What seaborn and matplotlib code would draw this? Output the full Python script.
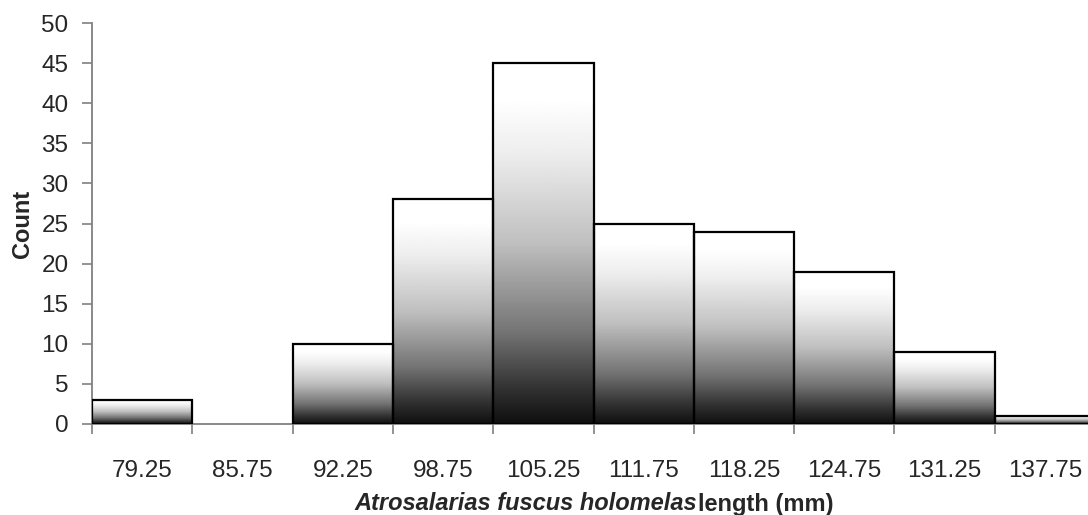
import numpy as np
import pandas as pd
import matplotlib
matplotlib.use('Agg')
import matplotlib.pyplot as plt
import seaborn as sns

# histogram bins (mid points) and counts
bin_labels = ["79.25", "85.75", "92.25", "98.75", "105.25",
              "111.75", "118.25", "124.75", "131.25", "137.75"]
counts = [3, 0, 10, 28, 45, 25, 24, 19, 9, 1]
y_ticks = list(range(0, 51, 5))

sns.set_style("white")
plt.rcParams['font.family'] = ['Liberation Sans', 'DejaVu Sans']

df = pd.DataFrame({"bin": bin_labels, "count": counts})

fig = plt.figure(figsize=(10.88, 5.15), dpi=100)
ax = fig.add_axes([0.0846, 0.1767, 0.9218, 0.7786])

sns.barplot(data=df, x="bin", y="count", order=bin_labels, width=1.0,
            color="white", edgecolor="black", linewidth=1.6, ax=ax,
            saturation=1, zorder=3)

# white-to-black vertical gradient inside every bar (bottom -> top)
t = np.linspace(0, 1, 256)
grad = np.interp(t, [0, 0.1, 0.25, 0.5, 0.75, 0.9, 1.0],
                 [0.06, 0.2, 0.45, 0.75, 0.93, 1.0, 1.0]).reshape(-1, 1)
for patch in ax.patches:
    h = patch.get_height()
    if h <= 0:
        patch.set_visible(False)
        continue
    x0 = patch.get_x()
    w = patch.get_width()
    patch.set_facecolor("none")
    im = ax.imshow(grad, cmap="gray", vmin=0, vmax=1, aspect="auto",
                   origin="lower", extent=(x0, x0 + w, 0, h), zorder=2,
                   interpolation="bilinear")
    im.set_clip_path(patch)

ax.set_xlim(-0.5, len(bin_labels) - 0.5)
ax.set_ylim(0, 50)
ax.set_yticks(y_ticks)

# ticks between the bars, labels centred under them
ax.set_xticks(np.arange(len(bin_labels)))
ax.set_xticklabels(bin_labels)
ax.set_xticks(np.arange(-0.5, len(bin_labels) + 0.5, 1), minor=True)
ax.tick_params(axis="x", which="major", length=0, pad=26, labelsize=17.5)
ax.tick_params(axis="x", which="minor", length=7, width=1.2, color="#808080",
               direction="out", bottom=True)
ax.tick_params(axis="y", length=7, width=1.2, color="#808080", direction="out",
               left=True, pad=10, labelsize=17.5)

for s in ["top", "right"]:
    ax.spines[s].set_visible(False)
for s in ["left", "bottom"]:
    ax.spines[s].set_color("#808080")
    ax.spines[s].set_linewidth(1.3)
    ax.spines[s].set_zorder(1)

ax.set_xlabel("")
ax.set_ylabel("")
fig.text(22 / 1088, 1 - 224 / 515, "Count", rotation=90, ha="center",
         va="center", fontsize=17, fontweight="bold")

# x label: species name in bold italic followed by bold text
t1 = fig.text(0, 0, "Atrosalarias fuscus holomelas", fontsize=17,
              fontweight="bold", fontstyle="italic", va="center")
t2 = fig.text(0, 0, "length (mm)", fontsize=17, fontweight="bold", va="center")
fig.canvas.draw()
r = fig.canvas.get_renderer()
w1 = t1.get_window_extent(r).width
w2 = t2.get_window_extent(r).width
cx = 594
yc = 1 - 504 / 515
start = cx - (w1 + w2) / 2
t1.set_position((start / 1088, yc))
t2.set_position(((start + w1) / 1088, yc))

fig.savefig("out.png", dpi=100)
plt.close(fig)
